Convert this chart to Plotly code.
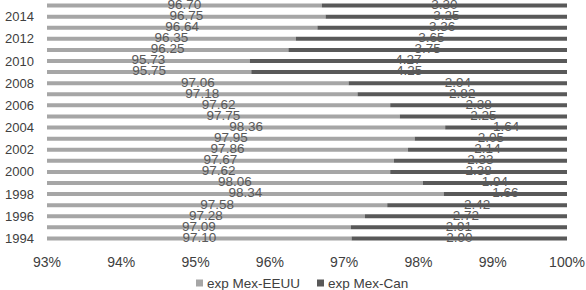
import plotly.graph_objects as go

years = list(range(1994, 2016))
mex_eeuu = [97.10, 97.09, 97.28, 97.58, 98.34, 98.06, 97.62, 97.67, 97.86, 97.95, 98.36,
            97.75, 97.62, 97.18, 97.06, 95.75, 95.73, 96.25, 96.35, 96.64, 96.75, 96.70]
mex_can = [2.90, 2.91, 2.72, 2.42, 1.66, 1.94, 2.38, 2.33, 2.14, 2.05, 1.64,
           2.25, 2.38, 2.82, 2.94, 4.25, 4.27, 3.75, 3.65, 3.36, 3.25, 3.30]
x_ticks = [93, 94, 95, 96, 97, 98, 99, 100]
series_names = ["exp Mex-EEUU", "exp Mex-Can"]

AX_MIN, AX_MAX = 93, 100
light = "#A6A6A6"
dark = "#595959"
label_col = "#595959"
tick_col = "#404040"
font = "Liberation Sans, Arial, sans-serif"

fig = go.Figure()
fig.add_trace(go.Bar(
    y=years, x=[v - AX_MIN for v in mex_eeuu], base=AX_MIN, orientation="h",
    marker=dict(color=light, line=dict(width=0)), width=0.36,
    name=series_names[0], hoverinfo="skip", showlegend=False))
fig.add_trace(go.Bar(
    y=years, x=mex_can, base=mex_eeuu, orientation="h",
    marker=dict(color=dark, line=dict(width=0)), width=0.36,
    name=series_names[1], hoverinfo="skip", showlegend=False))

# data labels centred in visible segments
fig.add_trace(go.Scatter(
    y=years, x=[(AX_MIN + v) / 2 for v in mex_eeuu], mode="text", cliponaxis=False,
    text=[f"{v:.2f}" for v in mex_eeuu], textfont=dict(color=label_col, size=13.5, family=font),
    showlegend=False, hoverinfo="skip"))
fig.add_trace(go.Scatter(
    y=years, x=[(v + AX_MAX) / 2 for v in mex_eeuu], mode="text", cliponaxis=False,
    text=[f"{v:.2f}" for v in mex_can], textfont=dict(color=label_col, size=13.5, family=font),
    showlegend=False, hoverinfo="skip"))

# custom legend (squares + text)
W, H = 586, 290
legend_items = [(196, light, series_names[0]), (317, dark, series_names[1])]
shapes, annotations = [], []
for px, col, name in legend_items:
    shapes.append(dict(type="rect", xref="paper", yref="paper",
                       x0=(px - 47) / 520, x1=(px + 7 - 47) / 520,
                       y0=(244 - 286.5) / 244, y1=(244 - 279.5) / 244,
                       fillcolor=col, line=dict(width=0)))
    annotations.append(dict(xref="paper", yref="paper", x=(px + 9 - 47) / 520,
                            y=(244 - 283) / 244, xanchor="left", yanchor="middle",
                            text=name, showarrow=False,
                            font=dict(size=13.5, color=tick_col, family=font)))

fig.update_layout(
    width=W, height=H,
    margin=dict(l=47, r=19, t=0, b=46, autoexpand=False),
    paper_bgcolor="white", plot_bgcolor="white",
    barmode="overlay", showlegend=False,
    font=dict(family=font, size=13, color=tick_col),
    shapes=shapes, annotations=annotations,
    xaxis=dict(range=[AX_MIN, AX_MAX], tickvals=x_ticks, automargin=False,
               ticktext=[f"{t}%" for t in x_ticks], showgrid=False, zeroline=False,
               showline=False, ticks="", ticklabelstandoff=8,
               tickfont=dict(size=14, color=tick_col)),
    yaxis=dict(range=[1993.5, 2015.5], tickmode="linear", tick0=1994, dtick=2,
               automargin=False, showgrid=False, zeroline=False, showline=False,
               ticks="", ticklabelstandoff=12, tickfont=dict(size=13, color=tick_col)),
)

fig.write_html("out.html", config={"displayModeBar": False},
               post_script="document.body.style.margin='0px';document.body.style.overflow='hidden';")
